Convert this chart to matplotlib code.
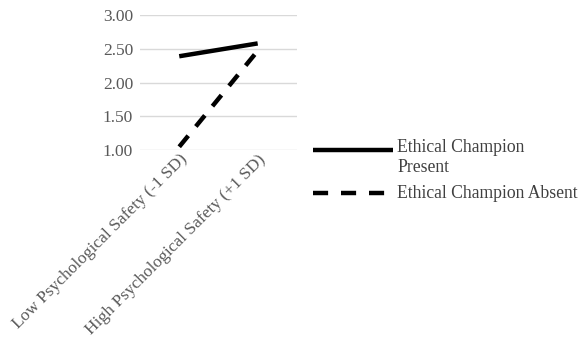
import matplotlib
matplotlib.use('Agg')
import matplotlib.pyplot as plt
from matplotlib.lines import Line2D

categories = ['Low Psychological Safety (-1 SD)', 'High Psychological Safety (+1 SD)']
present = [2.39, 2.58]
absent = [1.05, 2.47]
series_names = ['Ethical Champion\nPresent', 'Ethical Champion Absent']
yticks = [1.0, 1.5, 2.0, 2.5, 3.0]

plt.rcParams['font.family'] = ['Liberation Serif', 'DejaVu Serif']


def main():
    fig = plt.figure(figsize=(5.81, 3.42), dpi=100)
    ax = fig.add_axes([0.241, 0.561, 0.27, 0.395])
    x = list(range(len(categories)))

    ax.plot(x, present, color='black', lw=3.2, solid_capstyle='butt')
    ax.plot(x, absent, color='black', lw=3.2, dashes=(3.2, 2.7), dash_capstyle='butt')

    ax.set_xlim(-0.5, 1.5)
    ax.set_ylim(1.0, 3.0)
    ax.set_yticks(yticks)
    ax.set_yticklabels([f'{v:.2f}' for v in yticks])
    ax.set_xticks(x)
    ax.set_xticklabels(categories, rotation=45, ha='right', rotation_mode='anchor')
    ax.tick_params(length=0, labelsize=12.5, colors='#595959', pad=5)
    ax.tick_params(axis='x', pad=1)
    ax.grid(axis='y', color='#d9d9d9', lw=1)
    ax.set_axisbelow(True)
    for s in ax.spines.values():
        s.set_visible(False)
    ax.patch.set_alpha(0)

    # legend drawn by hand so the handle lines up with the first text line
    W, H = 581, 342
    rows = [(150, '-'), (193, '--')]
    for (yp, ls), name in zip(rows, series_names):
        yf = 1 - yp / H
        ln = Line2D([313 / W, 393 / W], [yf, yf], color='black', lw=3.2,
                    transform=fig.transFigure)
        if ls == '--':
            ln.set_dashes((3.4, 2.9))
            ln.set_dash_capstyle('butt')
        else:
            ln.set_solid_capstyle('butt')
        fig.add_artist(ln)
        if '\n' in name:
            fig.text(397 / W, yf + 11 / H, name, fontsize=12.7, color='#404040',
                     va='top', linespacing=1.25)
        else:
            fig.text(397 / W, yf, name, fontsize=12.7, color='#404040', va='center')

    fig.savefig('out.png', dpi=100)


if __name__ == "__main__":
    main()
